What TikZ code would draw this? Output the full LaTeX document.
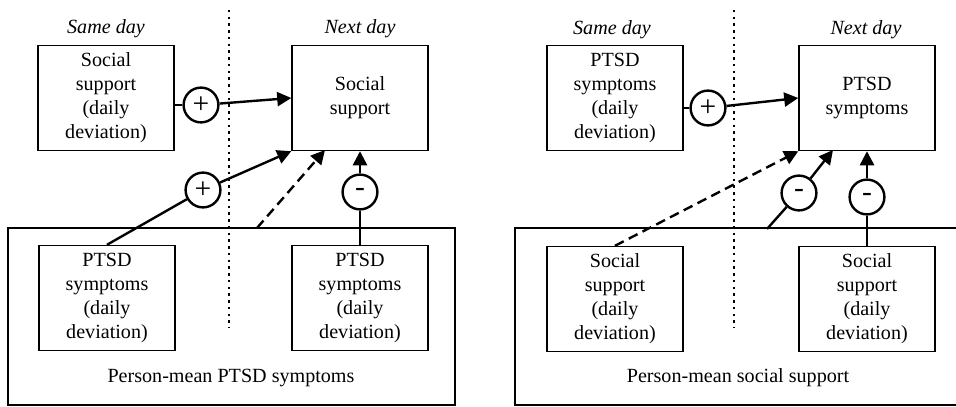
\documentclass[tikz,border=0pt]{standalone}
\usepackage{fontspec}
\setmainfont{Liberation Serif}
\usepackage{tikz}
\usetikzlibrary{arrows.meta}
\definecolor{Black}{gray}{0}

\tikzset{
  varbox/.style={draw=Black, line width=1pt, minimum width=3.4cm, minimum height=2.625cm,
    inner sep=0pt, align=center, font=\fontsize{14.3}{17}\selectfont},
  grouprect/.style={draw=Black, line width=1pt, inner sep=0pt},
  signcirc/.style={draw=Black, circle, line width=1.7pt, minimum size=0.87cm, inner sep=0pt,
    font=\fontsize{21}{21}\selectfont},
  daylabel/.style={font=\fontsize{14.3}{17}\selectfont\itshape},
  grouplabel/.style={font=\fontsize{14.3}{17}\selectfont},
  conn/.style={Black, line width=1.7pt},
  pointer/.style={conn, -{Triangle[length=10pt,width=10pt]}},
  dashpointer/.style={pointer, dash pattern=on 7pt off 4pt},
  divline/.style={Black, line width=1.7pt, dash pattern=on 1.7pt off 3.1pt}
}

\begin{document}
\begin{tikzpicture}[x=0.025cm, y=-0.025cm]
  \useasboundingbox (0,0) rectangle (956,407);

  % left panel
  \node[grouprect, minimum width=11.175cm, minimum height=4.425cm] (meanPtsd) at (231.5,316.5) {};
  \node[grouplabel] (meanPtsdLabel) at (231,378) {Person-mean PTSD symptoms};
  \draw[divline] (229,10) -- (229,328);
  \node[daylabel] (sameDayL) at (106,29) {Same day};
  \node[daylabel] (nextDayL) at (360,29) {Next day};

  \node[varbox] (ssSame) at (106,98) {Social\\support\\(daily\\deviation)};
  \node[varbox] (ssNext) at (360,98) {Social\\support};
  \node[varbox] (ptsdSameL) at (107,298) {PTSD\\symptoms\\(daily\\deviation)};
  \node[varbox] (ptsdNextL) at (360,298) {PTSD\\symptoms\\(daily\\deviation)};

  \node[signcirc] (plusA) at (201,105) {+};
  \node[signcirc] (plusB) at (203,190) {+};
  \node[signcirc] (minusA) at (360,192) {-};
  \coordinate (dashFromL) at (257,228);
  \coordinate (dashToL) at (325,150);

  \draw[conn] (ssSame.east |- plusA) -- (plusA);
  \draw[pointer] (plusA) -- (ssNext.west);
  \draw[pointer] (ptsdSameL.north) -- (plusB) -- (ssNext.south west);
  \draw[dashpointer] (dashFromL) -- (dashToL);
  \draw[pointer] (ptsdNextL.north) -- (minusA) -- (ssNext.south);

  % right panel
  \node[grouprect, minimum width=11.075cm, minimum height=4.425cm] (meanSs) at (736.5,316.5) {};
  \node[grouplabel] (meanSsLabel) at (738,378) {Person-mean social support};
  \draw[divline] (734,10) -- (734,328);
  \node[daylabel] (sameDayR) at (612,30) {Same day};
  \node[daylabel] (nextDayR) at (866,30) {Next day};

  \node[varbox] (ptsdSame) at (615,98) {PTSD\\symptoms\\(daily\\deviation)};
  \node[varbox] (ptsdNext) at (867,98) {PTSD\\symptoms};
  \node[varbox] (ssSameR) at (615,299) {Social\\support\\(daily\\deviation)};
  \node[varbox] (ssNextR) at (867,299) {Social\\support\\(daily\\deviation)};

  \node[signcirc] (plusR) at (708,108) {+};
  \node[signcirc] (minusB) at (799,193) {-};
  \node[signcirc] (minusC) at (867,197) {-};
  \coordinate (minusFromR) at (767,229);
  \coordinate (minusToR) at (833,150);

  \draw[conn] (ptsdSame.east |- plusR) -- (plusR);
  \draw[pointer] (plusR) -- (ptsdNext.west);
  \draw[dashpointer] (ssSameR.north) -- (ptsdNext.south west);
  \draw[pointer] (minusFromR) -- (minusB) -- (minusToR);
  \draw[pointer] (ssNextR.north) -- (minusC) -- (ptsdNext.south);
\end{tikzpicture}
\end{document}
